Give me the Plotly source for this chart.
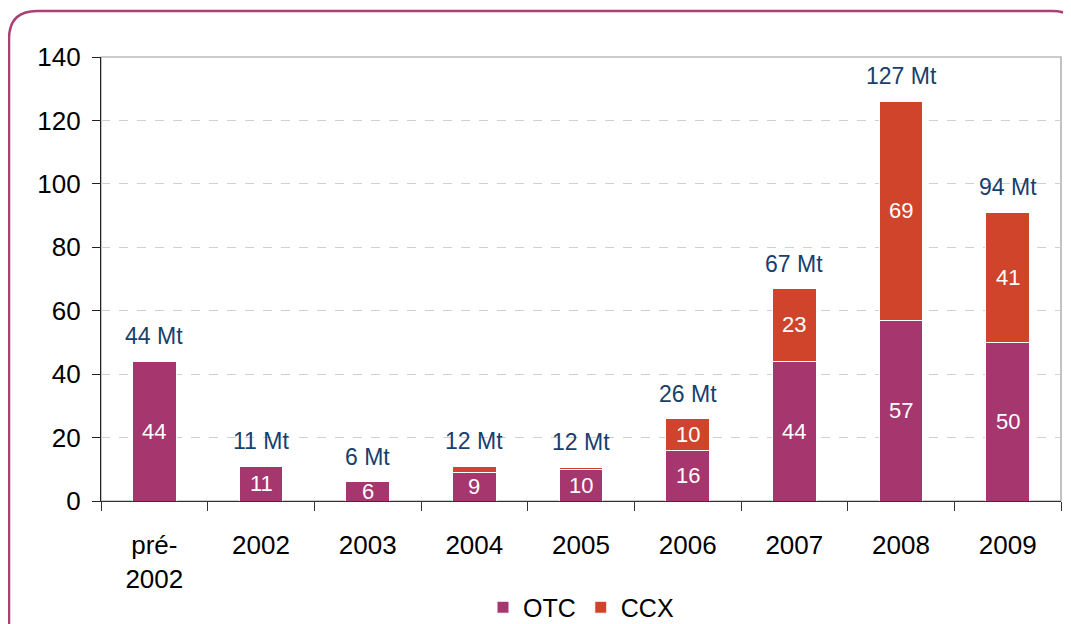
import plotly.graph_objects as go

# data
categories = ["pré-<br>2002", "2002", "2003", "2004", "2005", "2006", "2007", "2008", "2009"]
otc = [44, 11, 6, 9, 10, 16, 44, 57, 50]
ccx = [0, 0, 0, 2, 0.6, 10, 23, 69, 41]
otc_labels = ["44", "11", "6", "9", "10", "16", "44", "57", "50"]
ccx_labels = ["", "", "", "", "", "10", "23", "69", "41"]
total_labels = ["44 Mt", "11 Mt", "6 Mt", "12 Mt", "12 Mt", "26 Mt", "67 Mt", "127 Mt", "94 Mt"]

OTC_COLOR = "#A5366E"
CCX_COLOR = "#D0442B"
NAVY = "#17406E"
FONT = "Liberation Sans, Arial, sans-serif"

fig = go.Figure()
fig.add_trace(go.Bar(x=categories, y=otc, name="OTC", marker_color=OTC_COLOR,
                     marker_line=dict(color="white", width=1)))
fig.add_trace(go.Bar(x=categories, y=ccx, name="CCX", marker_color=CCX_COLOR,
                     marker_line=dict(color="white", width=1)))

# value labels inside the segments (x given as category index)
for i, (o, c, ol, cl) in enumerate(zip(otc, ccx, otc_labels, ccx_labels)):
    if ol:
        fig.add_annotation(x=i, y=o / 2, text=ol, showarrow=False,
                           font=dict(color="white", size=22, family=FONT))
    if cl:
        fig.add_annotation(x=i, y=o + c / 2, text=cl, showarrow=False,
                           font=dict(color="white", size=22, family=FONT))

# totals above bars
for i, (o, c, tl) in enumerate(zip(otc, ccx, total_labels)):
    fig.add_annotation(x=i, y=o + c, text=tl, showarrow=False, yanchor="bottom",
                       yshift=10, font=dict(color=NAVY, size=23, family=FONT))

# the page body has an 8px margin, so the figure is shifted accordingly
L, T, W, H = 93, 49, 960, 444
FW, FH = 1063, 616

# rounded frame, in pixels relative to the plot area's top-left corner
x0, y0, x1, r = 1 - L, T - 3, 1072 - L, 28
frame = (f"M {x0},-700 L {x0},{y0 - r} Q {x0},{y0} {x0 + r},{y0} "
         f"L {x1 - r},{y0} Q {x1},{y0} {x1},{y0 - r} L {x1},-700")
fig.add_shape(type="path", xref="paper", yref="paper",
              xsizemode="pixel", ysizemode="pixel", xanchor=0, yanchor=1,
              path=frame, line=dict(color="#AD3F72", width=2.5))

# grey plot-area border
fig.add_shape(type="rect", xref="paper", yref="paper", x0=0, y0=0, x1=1, y1=1,
              line=dict(color="#9A9A9A", width=1.2), layer="below")

fig.update_layout(
    barmode="stack",
    bargap=0.59,
    width=FW, height=FH,
    margin=dict(l=L, r=FW - L - W, t=T, b=FH - T - H, autoexpand=False),
    paper_bgcolor="white", plot_bgcolor="white",
    font=dict(family=FONT, size=26, color="black"),
    showlegend=True,
    legend=dict(orientation="h", x=0.5, xanchor="center", y=-0.188, yanchor="top",
                font=dict(size=25), traceorder="normal"),
)
fig.update_xaxes(type="category", range=[-0.5, len(categories) - 0.5],
                 tickson="boundaries", ticks="outside", ticklen=9,
                 tickcolor="#333", showline=True, linecolor="#333", linewidth=1.2,
                 showgrid=False, tickangle=0, ticklabelstandoff=21,
                 tickfont=dict(size=26))
fig.update_yaxes(range=[0, 140], dtick=20, ticks="outside", ticklen=8, tickcolor="#222",
                 showline=True, linecolor="#222", linewidth=1.2,
                 gridcolor="#D0D0D0", griddash="dash", gridwidth=1,
                 zeroline=False, ticklabelstandoff=6, tickfont=dict(size=26))

fig.write_html("out.html")
